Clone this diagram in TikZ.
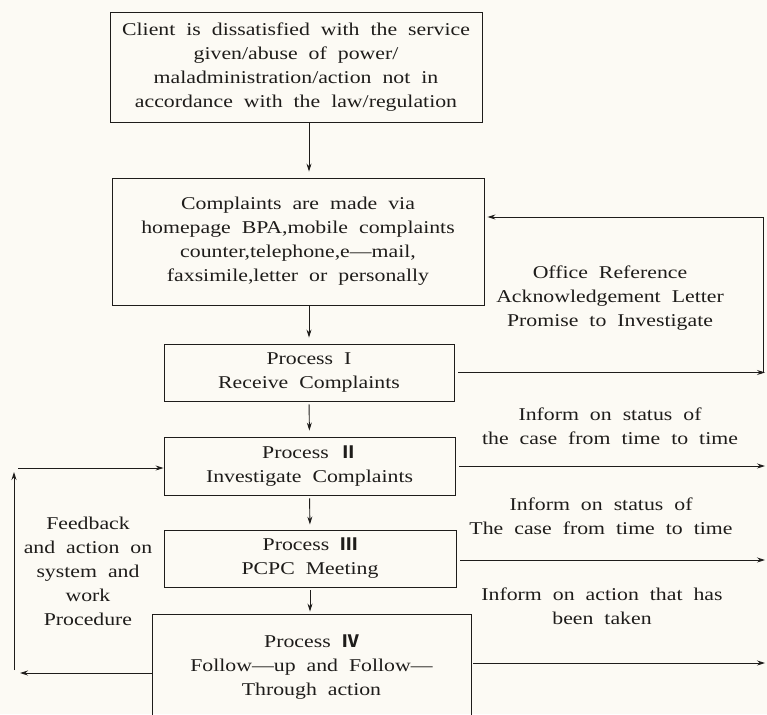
\documentclass[tikz,border=0pt]{standalone}
\usepackage{fontspec}
\setmainfont[FakeStretch=1.21]{Liberation Serif}
\newfontfamily\cjkf{Noto Sans CJK SC}
\usetikzlibrary{arrows.meta,calc}
\definecolor{paper}{RGB}{252,250,244}
\definecolor{ink}{RGB}{30,28,26}
\newcommand\txtfont{\fontsize{18}{24}\selectfont\spaceskip=11pt plus 2pt minus 2pt\relax}
\newcommand\rn[1]{{\cjkf\bfseries\fontsize{17}{24}\selectfont #1}}
\begin{document}
\begin{tikzpicture}[x=1pt,y=-1pt,
  box/.style={draw=ink,line width=0.9pt,inner sep=0pt,align=center,text=ink,font=\txtfont},
  lbl/.style={align=center,text=ink,font=\txtfont,inner sep=0pt},
  arr/.style={draw=ink,line width=0.9pt,-{Stealth[length=8pt,width=5pt]}},
  ln/.style={draw=ink,line width=0.9pt}]
\fill[paper] (0,0) rectangle (767,714);
\useasboundingbox (0,0) rectangle (767,714);
% boxes
\node[box,minimum width=372,minimum height=110] (b1) at (296,67)
  {Client is dissatisfied with the service\\given/abuse of power/\\maladministration/action not in\\accordance with the law/regulation};
\node[box,minimum width=372,minimum height=127] (b2) at (298,241.5)
  {Complaints are made via\\homepage BPA,mobile complaints\\counter,telephone,e—mail,\\faxsimile,letter or personally};
\node[box,minimum width=290,minimum height=57] (b3) at (309,372.5)
  {Process I\\Receive Complaints};
\node[box,minimum width=291,minimum height=58] (b4) at (309.5,466)
  {Process \rn{Ⅱ}\\Investigate Complaints};
\node[box,minimum width=292,minimum height=57] (b5) at (310,558.5)
  {Process \rn{Ⅲ}\\PCPC Meeting};
\node[box,minimum width=319,minimum height=106] (b6) at (311.5,667)
  {Process \rn{Ⅳ}\\Follow—up and Follow—\\Through action};
% labels
\node[lbl] (l1) at (610,298) {Office Reference\\Acknowledgement Letter\\Promise to Investigate};
\node[lbl] (l2) at (610,426) {Inform on status of\\the case from time to time};
\node[lbl] (l3) at (601,516) {Inform on status of\\The case from time to time};
\node[lbl] (l4) at (602,606) {Inform on action that has\\been taken};
\node[lbl] (l5) at (88,571) {Feedback\\and action on\\system and\\work\\Procedure};
% coordinates
\coordinate (rx) at (765,0);
\coordinate (ftop) at (763,217);
\coordinate (fbot) at (763,373);
\coordinate (lbot) at (14,670);
\coordinate (ltop) at (14,472);
\coordinate (lin) at (18,468);
\coordinate (lout) at (20,673);
% vertical flow
\draw[arr,shorten >=6pt] (b1.south -| b3) -- (b2.north -| b3);
\draw[arr,shorten >=6pt] (b2.south -| b3) -- (b3.north);
\draw[arr,shorten >=6pt,shorten <=3pt] (b3.south) -- (b4.north);
\draw[arr,shorten >=5pt,shorten <=3pt] (b4.south) -- (b5.north);
\draw[arr,shorten >=2pt,shorten <=3pt] (b5.south) -- (b6.north -| b5);
% right side
\draw[arr,shorten <=4pt] (b3.east) -- (b3.east -| rx);
\draw[ln] (fbot) -- (ftop);
\draw[arr,shorten >=3pt] (ftop) -- (b2.east |- ftop);
\draw[arr,shorten <=4pt] (b4.east) -- (b4.east -| rx);
\draw[arr,shorten <=4pt] ($(b5.east)+(0,1.5)$) -- ($(b5.east -| rx)+(0,1.5)$);
\draw[arr,shorten <=2pt] ($(b6.east)+(0,-4)$) -- ($(b6.east -| rx)+(0,-4)$);
% left side
\draw[arr] ($(b6.west)+(0,6)$) -- (lout);
\draw[arr] (lbot) -- (ltop);
\draw[arr] (lin) -- (b4.west |- lin);
\end{tikzpicture}
\end{document}
